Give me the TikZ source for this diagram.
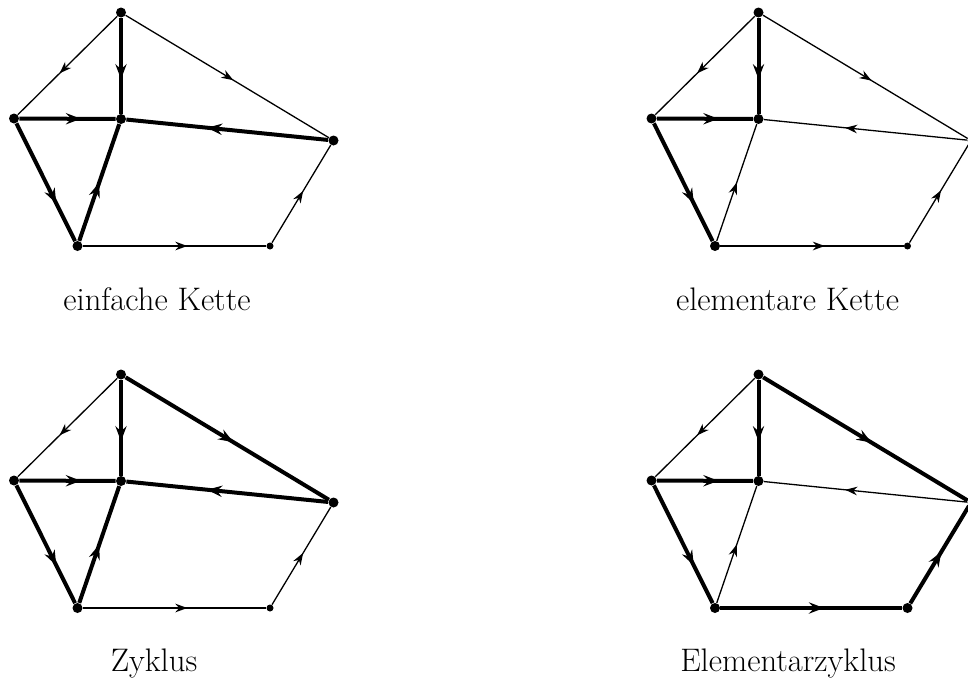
\documentclass[tikz,border=0pt]{standalone}
\usepackage{fontspec}
\usetikzlibrary{arrows.meta,decorations.markings}
\tikzset{
  vbig/.style={circle,fill,inner sep=0pt,minimum size=5pt,draw=none},
  vsmall/.style={circle,fill,inner sep=0pt,minimum size=3.5pt,draw=none},
  thinedge/.style={line width=0.65pt,>={Stealth[length=6pt,width=4.3pt,inset=1.9pt]}},
  thickedge/.style={line width=2pt,>={Stealth[length=7.5pt,width=5.6pt,inset=2.6pt]}},
  midarrow/.style={postaction={decorate,decoration={markings,mark=at position #1 with {\arrow{>}}}}},
  lab/.style={font=\fontsize{16.3}{19}\selectfont,inner sep=0pt,anchor=base},
  eTL/.style={thinedge}, eTC/.style={thinedge}, eTR/.style={thinedge},
  eLC/.style={thinedge}, eRC/.style={thinedge}, eLB/.style={thinedge},
  eBC/.style={thinedge}, eBD/.style={thinedge}, eDR/.style={thinedge},
  nT/.style={vsmall}, nL/.style={vsmall}, nC/.style={vsmall},
  nR/.style={vsmall}, nB/.style={vsmall}, nD/.style={vsmall}
}
\newcommand\drawgraph[1]{%
  \node[nT] (#1T) at (121,12.5) {};
  \node[nL] (#1L) at (14,118.5) {};
  \node[nC] (#1C) at (121,119) {};
  \node[nR] (#1R) at (333.5,140.5) {};
  \node[nB] (#1B) at (77.5,246) {};
  \node[nD] (#1D) at (270,246) {};
  \draw[eTL,midarrow=0.58] (#1T) -- (#1L);
  \draw[eTC,midarrow=0.64] (#1T) -- (#1C);
  \draw[eTR,midarrow=0.53] (#1T) -- (#1R);
  \draw[eLC,midarrow=0.64] (#1L) -- (#1C);
  \draw[eRC,midarrow=0.6] (#1R) -- (#1C);
  \draw[eLB,midarrow=0.68] (#1L) -- (#1B);
  \draw[eBC,midarrow=0.5] (#1B) -- (#1C);
  \draw[eBD,midarrow=0.57] (#1B) -- (#1D);
  \draw[eDR,midarrow=0.53] (#1D) -- (#1R);
}
\begin{document}
\begin{tikzpicture}[x=0.5pt,y=-0.5pt]
\clip (0,0) rectangle (968,680);
% einfache Kette
\begin{scope}[eTC/.style={thickedge}, eLC/.style={thickedge}, eRC/.style={thickedge},
  eLB/.style={thickedge}, eBC/.style={thickedge},
  nT/.style={vbig}, nL/.style={vbig}, nC/.style={vbig}, nR/.style={vbig}, nB/.style={vbig}]
  \drawgraph{a}
  \node[lab] (la) at (157,310) {einfache Kette};
\end{scope}
% elementare Kette
\begin{scope}[shift={(637.5,0)}, eTC/.style={thickedge}, eLC/.style={thickedge}, eLB/.style={thickedge},
  nT/.style={vbig}, nL/.style={vbig}, nC/.style={vbig}, nB/.style={vbig}]
  \drawgraph{b}
  \node[lab] (lb) at (150,310) {elementare Kette};
\end{scope}
% Zyklus
\begin{scope}[shift={(0,362)}, eTC/.style={thickedge}, eTR/.style={thickedge}, eLC/.style={thickedge},
  eRC/.style={thickedge}, eLB/.style={thickedge}, eBC/.style={thickedge},
  nT/.style={vbig}, nL/.style={vbig}, nC/.style={vbig}, nR/.style={vbig}, nB/.style={vbig}]
  \drawgraph{c}
  \node[lab] (lc) at (154,309) {Zyklus};
\end{scope}
% Elementarzyklus
\begin{scope}[shift={(637.5,362)}, eTC/.style={thickedge}, eTR/.style={thickedge}, eLC/.style={thickedge},
  eLB/.style={thickedge}, eBD/.style={thickedge}, eDR/.style={thickedge},
  nT/.style={vbig}, nL/.style={vbig}, nC/.style={vbig}, nB/.style={vbig}, nD/.style={vbig}]
  \drawgraph{d}
  \node[lab] (ld) at (150.5,309) {Elementarzyklus};
\end{scope}
\end{tikzpicture}
\end{document}
